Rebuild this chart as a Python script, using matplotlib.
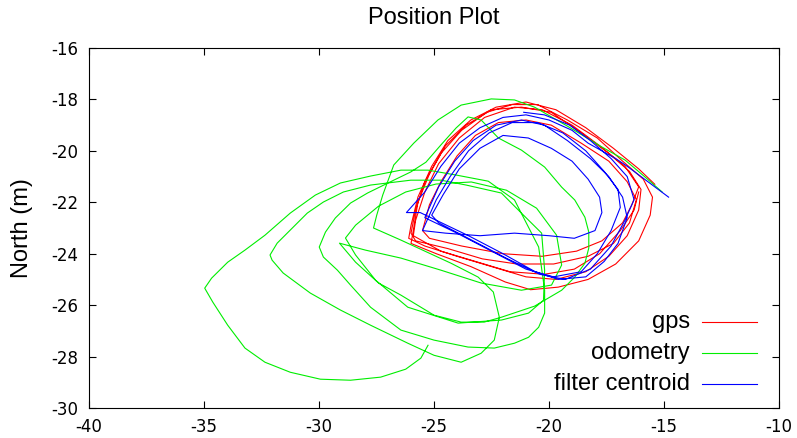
import matplotlib
matplotlib.use("Agg")
import matplotlib.pyplot as plt

# datos (m)
gps_x = [-15.4, -16.1, -17.2, -18.4, -19.7, -21.0, -22.3, -23.4, -24.4, -25.1, -25.7, -26.0, -26.1,
         -25.4, -24.0, -22.5, -21.0, -19.7, -18.4, -17.4, -16.6, -16.1, -16.0, -16.5, -17.4, -18.6, -19.9, -21.2,
         -22.5, -23.6, -24.5, -25.2, -25.7, -25.9, -26.0, -24.9, -23.4, -21.9, -20.8, -19.6, -18.3, -17.1, -16.1,
         -15.6, -15.5, -15.9, -16.8, -17.9, -19.2, -20.5, -21.6,
         -22.7, -23.8, -24.7, -25.4, -25.8, -26.0, -25.8, -24.4, -22.9, -21.4, -19.8, -18.3, -17.2, -16.5, -16.2,
         -16.6, -17.4, -18.6, -19.9, -21.0, -22.2, -23.2, -24.0, -24.7, -25.2, -25.5, -25.2, -23.8, -22.0, -20.3,
         -18.8, -17.7, -16.8, -16.4, -16.1,
         -16.7, -17.8, -19.0, -20.3, -21.5, -22.8, -23.9, -24.8, -25.4, -25.8, -25.9, -24.7, -23.2, -21.7, -20.2,
         -18.9, -17.8, -16.9, -16.3, -16.1]
gps_y = [-21.3, -20.7, -19.9, -19.1, -18.4, -18.1, -18.3, -18.8, -19.6, -20.6, -21.8, -22.9, -23.4,
         -23.7, -24.1, -24.5, -24.9, -25.0, -24.7, -24.1, -23.3, -22.3, -21.5, -20.8, -20.1, -19.3, -18.5, -18.3,
         -18.4, -19.0, -19.8, -20.9, -22.0, -23.1, -23.6, -24.0, -24.5, -25.1, -25.4, -25.3, -25.0, -24.4, -23.5,
         -22.5, -21.8, -21.1, -20.4, -19.5, -18.8, -18.2, -18.2,
         -18.5, -19.2, -20.1, -21.2, -22.3, -23.2, -23.5, -23.8, -24.2, -24.4, -24.4, -24.1, -23.6, -22.8, -21.9,
         -21.2, -20.4, -19.7, -19.0, -18.8, -18.9, -19.4, -20.2, -21.2, -22.1, -23.1, -23.4, -23.7, -24.0, -24.1,
         -23.9, -23.5, -22.8, -22.1, -21.4,
         -20.6, -19.8, -19.0, -18.4, -18.3, -18.7, -19.5, -20.5, -21.6, -22.7, -23.3, -23.9, -24.3, -24.7, -24.8,
         -24.6, -24.0, -23.1, -22.3, -21.6]

odom_x = [-15.08, -15.82, -16.69, -17.70, -19.14, -20.63, -21.50, -22.51, -23.82, -24.83, -25.88, -26.75, -27.23,
          -27.49, -27.63,
          -26.44, -24.26, -23.08, -22.42, -22.16, -22.38, -22.95, -23.82, -25.00, -26.14, -27.76, -29.07, -30.38,
          -31.56, -32.04, -32.13,
          -31.82, -31.25, -30.51, -29.81, -28.94, -27.76, -26.01, -24.70, -23.60, -22.07, -21.20, -20.32, -20.19,
          -20.24, -20.89, -22.07, -23.95, -26.14, -27.54, -28.41, -28.85,
          -28.41, -27.41, -26.23, -24.91, -23.38, -21.85, -20.54, -19.67, -19.45, -19.89, -21.20, -22.95, -24.70,
          -26.44, -27.98, -29.11,
          -28.41, -27.41, -26.44, -25.00, -23.82, -22.82, -22.07, -20.63, -19.45, -18.88, -18.44, -18.27, -18.27,
          -18.44, -18.88, -19.45, -20.19, -21.20, -22.20, -22.95, -23.52, -24.04, -24.70, -25.35, -26.01, -26.75,
          -27.89, -28.63, -29.29, -29.72, -29.99,
          -29.81, -29.20, -28.63, -27.76, -26.44, -25.00, -23.52, -22.38, -21.50, -20.89, -20.45, -20.19, -20.19,
          -20.45, -21.50, -22.64, -24.04, -25.26, -26.44, -27.76, -29.07, -30.16, -31.25, -32.35, -33.22, -33.97,
          -34.67, -34.97,
          -34.62, -33.97, -33.22, -32.35, -31.25, -29.94, -28.63, -27.32, -26.23, -25.57, -25.26]
odom_y = [-21.60, -21.02, -20.36, -19.85, -19.07, -18.30, -18.02, -17.98, -18.22, -18.80, -19.70, -20.55, -21.72,
          -22.50, -23.00,
          -23.47, -24.37, -24.91, -25.49, -26.47, -27.36, -27.87, -28.22, -27.95, -27.48, -26.78, -26.19, -25.53,
          -24.75, -24.25, -24.05,
          -23.59, -23.08, -22.42, -21.99, -21.60, -21.33, -21.14, -21.14, -21.33, -21.64, -22.42, -23.20, -24.64,
          -25.81, -26.31, -26.58, -26.70, -26.08, -25.03, -24.05, -23.39,
          -22.89, -22.15, -21.60, -21.29, -21.21, -21.53, -22.23, -23.28, -24.44, -25.22, -25.42, -25.14, -24.64,
          -24.17, -23.86, -23.59,
          -24.33, -25.14, -25.61, -26.39, -26.66, -26.66, -26.47, -26.04, -25.42, -24.91, -24.37, -23.78, -23.16,
          -22.58, -21.91, -21.41, -20.63, -19.97, -19.50, -18.80, -18.68, -19.11, -19.77, -20.44, -20.82, -21.14,
          -21.64, -22.03, -22.61, -23.16, -23.74,
          -24.13, -24.64, -25.22, -26.08, -26.97, -27.36, -27.63, -27.67, -27.48, -27.25, -26.86, -26.31, -25.42,
          -23.74, -21.91, -21.18, -20.94, -20.75, -20.75, -20.98, -21.25, -21.72, -22.42, -23.28, -23.86, -24.33,
          -24.95, -25.34,
          -25.88, -26.78, -27.67, -28.22, -28.61, -28.88, -28.92, -28.80, -28.49, -28.06, -27.56]

filt_x = [-14.8, -15.7, -16.6, -17.1, -18.3, -19.0, -20.0, -21.0, -22.0, -23.0, -23.9, -24.7, -25.4, -26.2,
          -25.6, -24.9,
          -23.5, -22.0, -20.6, -19.6, -18.4, -17.6, -17.0, -16.6, -16.8, -17.4, -18.2, -19.2, -20.2, -21.2, -22.3,
          -23.3, -24.1, -24.8, -25.3, -25.4,
          -24.0, -22.5, -21.0, -19.8, -18.6, -17.9, -17.3, -16.9, -17.0, -17.6, -18.4, -19.4, -20.5, -21.6, -22.6,
          -23.5, -24.3, -24.9, -25.3, -25.5,
          -24.5, -23.0, -21.5, -20.0, -18.9, -18.0, -17.7, -17.8, -18.3, -19.0, -19.9, -20.9, -22.0, -23.0, -23.9,
          -24.6, -25.1, -24.8,
          -23.3, -21.8, -20.4, -19.3, -18.2, -17.3, -16.7, -16.3, -16.6, -17.3, -18.2, -19.1, -20.2, -21.1]
filt_y = [-21.8, -21.2, -20.6, -20.3, -19.7, -19.2, -18.8, -18.6, -18.7, -19.1, -19.7, -20.6, -21.6, -22.4,
          -22.4, -22.7,
          -23.3, -24.0, -24.7, -25.0, -24.9, -24.3, -23.6, -22.6, -21.8, -21.0, -20.3, -19.6, -19.0, -18.8, -19.0,
          -19.6, -20.4, -21.4, -22.4, -22.6,
          -23.2, -23.9, -24.6, -24.9, -24.7, -24.0, -23.1, -22.2, -21.5, -20.8, -20.0, -19.3, -18.9, -18.9, -19.3,
          -20.0, -21.0, -21.9, -22.7, -23.1,
          -23.2, -23.3, -23.2, -23.3, -23.4, -23.1, -22.4, -21.8, -21.1, -20.4, -19.9, -19.5, -19.4, -19.9, -20.7,
          -21.7, -22.5, -22.8,
          -23.5, -24.2, -24.8, -25.0, -24.6, -23.7, -22.7, -21.9, -21.0, -20.3, -19.6, -19.0, -18.6, -18.5]

etiquetas = ["gps", "odometry", "filter centroid"]
colores = ["#ff0000", "#00ee00", "#0000ff"]

xticks = [-40, -35, -30, -25, -20, -15, -10]
yticks = [-30, -28, -26, -24, -22, -20, -18, -16]

fuente = ["Liberation Sans", "DejaVu Sans"]


def crear_figura():
    fig = plt.figure(figsize=(7.97, 4.38), dpi=100)
    ax = fig.add_axes([0.1117, 0.0685, 0.8657, 0.8219])
    return fig, ax


def dibujar_leyenda(ax):
    # leyenda a mano, estilo gnuplot (texto a la derecha, linea despues)
    ys = [0.239, 0.153, 0.067]
    for i in range(len(etiquetas)):
        ax.text(0.871, ys[i], etiquetas[i], transform=ax.transAxes, ha="right", va="center",
                fontsize=17, family=fuente)
        ax.plot([0.888, 0.968], [ys[i], ys[i]], transform=ax.transAxes, color=colores[i], lw=0.8)


fig, ax = crear_figura()

ax.plot(gps_x, gps_y, color=colores[0], lw=0.8)
ax.plot(odom_x, odom_y, color=colores[1], lw=0.8)
ax.plot(filt_x, filt_y, color=colores[2], lw=0.8)

ax.set_xlim(-40, -10)
ax.set_ylim(-30, -16)
ax.set_xticks(xticks)
ax.set_yticks(yticks)
ax.set_xticklabels([str(t) for t in xticks])
ax.set_yticklabels([str(t) for t in yticks])
ax.tick_params(direction="in", length=5, width=0.8, top=True, right=True, labelsize=12)
ax.tick_params(axis="x", pad=7)
ax.tick_params(axis="y", pad=8)
for s in ax.spines.values():
    s.set_linewidth(0.8)

dibujar_leyenda(ax)

fig.text(0.5445, 0.959, "Position Plot", ha="center", va="center", fontsize=17, family=fuente)
fig.text(0.0276, 0.479, "North (m)", ha="center", va="center", rotation=90, fontsize=17, family=fuente)

fig.savefig("out.png", dpi=100)
